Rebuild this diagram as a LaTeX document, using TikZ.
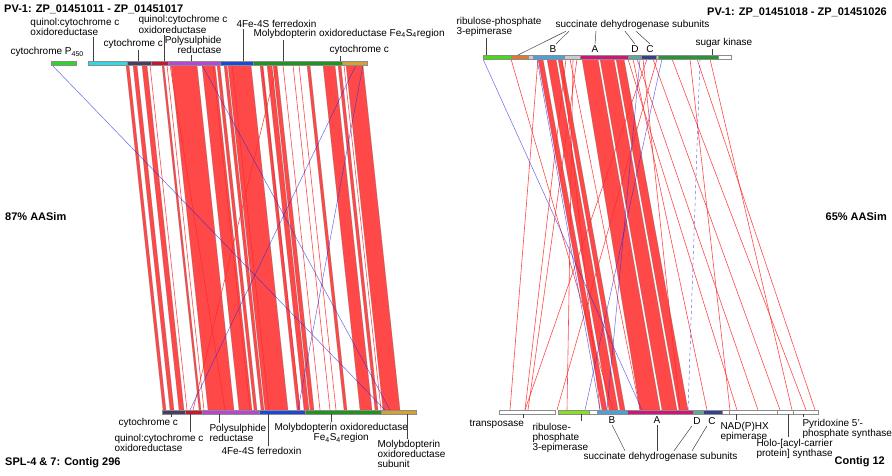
\documentclass[tikz,border=0pt]{standalone}
\usepackage{fontspec}
\setmainfont{Liberation Sans}

\definecolor{hitred}{RGB}{255,40,40}
\definecolor{invblue}{RGB}{40,40,230}
\definecolor{cpgreen}{RGB}{40,215,40}
\definecolor{qcyan}{RGB}{50,215,225}
\definecolor{cytpurple}{RGB}{75,60,100}
\definecolor{qcrimson}{RGB}{200,20,55}
\definecolor{psmagenta}{RGB}{185,70,210}
\definecolor{fdblue}{RGB}{30,70,215}
\definecolor{mogreen}{RGB}{30,150,30}
\definecolor{moorange}{RGB}{215,160,50}
\definecolor{rplime}{RGB}{70,220,20}
\definecolor{sdorange}{RGB}{225,120,50}
\definecolor{sdblue}{RGB}{75,160,215}
\definecolor{sdpink}{RGB}{210,20,120}
\definecolor{sdteal}{RGB}{90,170,160}
\definecolor{sdnavy}{RGB}{50,65,140}
\definecolor{skgreen}{RGB}{40,150,55}
\definecolor{rplimeb}{RGB}{135,225,30}

\begin{document}
\begin{tikzpicture}[x=1pt,y=-1pt,
    lbl/.style={font=\fontsize{10}{10}\selectfont, inner sep=0pt, outer sep=1.5pt, align=left},
    ttl/.style={font=\fontsize{11}{12}\selectfont\bfseries, inner sep=0pt},
    gene/.style={draw=black!45, line width=0.3pt},
    band/.style={fill=hitred, fill opacity=0.85, draw=black!60, draw opacity=0.5, line width=0.4pt},
    hit/.style={draw=hitred, line width=0.6pt, opacity=0.85},
    inv/.style={draw=invblue, line width=0.5pt, opacity=0.7},
    lead/.style={draw=black!75, line width=0.5pt}]

    \useasboundingbox (0,0) rectangle (892,475);

    % left comparison: Contig 296
    \foreach \a/\b in {126/129,133/137,142/147,162/164,171/197,202/215,217/220,224/227,228/251,260/263,267/272,273/277,307/310,323/335,338/341,346/363}
        \filldraw[band] (\a,65) -- (\b,65) -- (\b+37,410) -- (\a+37,410) -- cycle;
    \foreach \a/\b in {150/187,167/204,213/250,232/269,283/320,293/330,299/336,344/381,277/193,170/225,262/300}
        \draw[hit] (\a,65) -- (\b,410);
    \foreach \a/\b in {52/385,202/390,356/190,363/298}
        \draw[inv] (\a,65) -- (\b,410);

    % right comparison: Contig 12
    \foreach \a/\b/\c/\d in {538/543/602/607,547/556/609/618,558/562/620/625,582/598/640/660,600/614/662/677,616/624/679/688}
        \filldraw[band] (\a,59) -- (\b,59) -- (\d,410) -- (\c,410) -- cycle;
    \foreach \a/\b in {511/613,538/510,566/525,573/567,577/528,562/600,570/640,628/737,633/707,637/758,643/680,647/525,653/780,657/557,672/806,697/815,710/792,690/730}
        \draw[hit] (\a,59) -- (\b,410);
    \foreach \a/\b in {483/642,662/585,640/607,537/600}
        \draw[inv] (\a,59) -- (\b,410);
    \draw[inv, dashed] (700,59) -- (688,410);

    % gene bars
    \foreach \a/\b/\c in {50.7/76/cpgreen,88/127/qcyan,127/151/cytpurple,151/168/qcrimson,168/220/psmagenta,220/253/fdblue,253/342/mogreen,342/367/moorange}
        \filldraw[gene, fill=\c] (\a,61) rectangle (\b,65);
    \foreach \a/\b/\c in {162/185/cytpurple,185/202/qcrimson,202/259/psmagenta,259/305/fdblue,305/381/mogreen,381/416/moorange}
        \filldraw[gene, fill=\c] (\a,410) rectangle (\b,414);
    \foreach \a/\b/\c in {483/511/rplime,511/528/sdorange,528/533/black!20,533/564/sdblue,564/580/black!20,580/628/sdpink,628/640/sdteal,640/641/black!20,641/656/sdnavy,656/658/black!20,658/718/skgreen,718/731/white}
        \filldraw[gene, fill=\c] (\a,55) rectangle (\b,59);
    \foreach \a/\b/\c in {499/555/white,558/589/rplimeb,589/597/white,597/627/sdblue,627/693/sdpink,693/703/sdteal,703/722/sdnavy,722/729/white,729/777/white,777/793/white,793/818/white}
        \filldraw[gene, fill=\c] (\a,410) rectangle (\b,414);

    % titles
    \node[ttl, anchor=west] (tl) at (4,9) {PV-1: ZP\_01451011 - ZP\_01451017};
    \node[ttl, anchor=east] (tr) at (887,12) {PV-1: ZP\_01451018 - ZP\_01451026};
    \node[ttl, anchor=west] (sl) at (5,217) {87\% AASim};
    \node[ttl, anchor=east] (sr) at (887,217) {65\% AASim};
    \node[ttl, anchor=west] (bl) at (5,463) {SPL-4 \& 7: Contig 296};
    \node[ttl, anchor=east] (br) at (885,462) {Contig 12};

    % top left labels
    \node[lbl, anchor=west] (t1) at (29,26.5) {quinol:cytochrome c\\oxidoreductase};
    \node[lbl, anchor=west] (t2) at (102,44) {cytochrome c};
    \node[lbl, anchor=west, font=\fontsize{10}{8.5}\selectfont] (t3) at (137,24.5) {quinol:cytochrome c\\oxidoreductase};
    \node[lbl, anchor=east, align=right] (t4) at (223,45) {Polysulphide\\reductase};
    \node[lbl, anchor=west] (t5) at (235,23.5) {4Fe-4S ferredoxin};
    \node[lbl, anchor=west] (t6) at (252,33.5) {Molybdopterin oxidoreductase Fe\textsubscript{4}S\textsubscript{4}region};
    \node[lbl, anchor=west] (t7) at (328,50) {cytochrome c};
    \node[lbl, anchor=west] (t8) at (9,52) {cytochrome P\textsubscript{450}};
    \coordinate (g1) at (93,61);
    \coordinate (g2) at (138,61);
    \coordinate (g3) at (164,61);
    \coordinate (g4) at (191,61);
    \coordinate (g5) at (243,61);
    \coordinate (g6) at (283,61);
    \coordinate (g7) at (340,61);
    \draw[lead] (g1) -- (t1.south -| g1);
    \draw[lead] (g2) -- (t2.south -| g2);
    \draw[lead] (g3) -- (t3.south -| g3);
    \draw[lead] (g4) -- (t4.south -| g4);
    \draw[lead] (g5) -- (t5.south -| g5);
    \draw[lead] (g6) -- (t6.south -| g6);
    \draw[lead] (g7) -- (t7.south -| g7);

    % bottom left labels
    \node[lbl, anchor=west] (b1) at (117,423) {cytochrome c};
    \node[lbl, anchor=west] (b2) at (113,442.5) {quinol:cytochrome c\\oxidoreductase};
    \node[lbl, anchor=west] (b3) at (208,433) {Polysulphide\\reductase};
    \node[lbl, anchor=west] (b4) at (220,451) {4Fe-4S ferredoxin};
    \node[lbl, anchor=west, align=center] (b5) at (273,433) {Molybdopterin oxidoreductase\\Fe\textsubscript{4}S\textsubscript{4}region};
    \node[lbl, anchor=west] (b6) at (376,454) {Molybdopterin\\oxidoreductase\\subunit};
    \coordinate (h1) at (171,414);
    \coordinate (h2) at (190,414);
    \coordinate (h3) at (219,414);
    \coordinate (h4) at (268,414);
    \coordinate (h5) at (331,414);
    \coordinate (h6) at (407,414);
    \draw[lead] (h1) -- (b1.north -| h1);
    \draw[lead] (h2) -- (b2.north -| h2);
    \draw[lead] (h3) -- (b3.north -| h3);
    \draw[lead] (h4) -- (b4.north -| h4);
    \draw[lead] (h5) -- (b5.north -| h5);
    \draw[lead] (h6) -- (b6.north -| h6);

    % top right labels
    \node[lbl, anchor=west] (r1) at (455,27) {ribulose-phosphate\\3-epimerase};
    \node[lbl, anchor=west] (r2) at (554,25) {succinate dehydrogenase subunits};
    \node[lbl] (r3) at (553,49) {B};
    \node[lbl] (r4) at (595,49) {A};
    \node[lbl] (r5) at (635,49) {D};
    \node[lbl] (r6) at (650,49) {C};
    \node[lbl, anchor=west] (r7) at (694,43) {sugar kinase};
    \coordinate (k1) at (486,55);
    \coordinate (k2) at (518,55);
    \coordinate (k7) at (712,55);
    \draw[lead] (k1) -- (r1.south -| k1);
    \draw[lead] (k7) -- (r7.south -| k7);
    \draw[lead] ([xshift=12pt]r2.south west) -- (k2);
    \draw[lead] ([xshift=15pt]r2.south west) -- ([xshift=3pt]r3.north);
    \draw[lead] ([xshift=42pt]r2.south west) -- (r4.north);
    \draw[lead] ([xshift=71pt]r2.south west) -- (r5.north);
    \draw[lead] ([xshift=82pt]r2.south west) -- (r6.north);

    % bottom right labels
    \node[lbl, anchor=west] (c1) at (468,424) {transposase};
    \node[lbl, anchor=west] (c2) at (531,437.5) {ribulose-\\phosphate\\3-epimerase};
    \node[lbl] (c3) at (612,420) {B};
    \node[lbl] (c4) at (657,420) {A};
    \node[lbl] (c5) at (697,421) {D};
    \node[lbl] (c6) at (712,421) {C};
    \node[lbl, anchor=west] (c7) at (582,457) {succinate dehydrogenase subunits};
    \node[lbl, anchor=west] (c8) at (719,431.5) {NAD(P)HX\\epimerase};
    \node[lbl, anchor=west] (c9) at (755,448.5) {Holo-[acyl-carrier\\protein] synthase};
    \node[lbl, anchor=west] (c10) at (801,428.5) {Pyridoxine 5'-\\phosphate synthase};
    \coordinate (m1) at (523,414);
    \coordinate (m2) at (581,414);
    \coordinate (m8) at (736,414);
    \coordinate (m9) at (788,414);
    \coordinate (m10) at (803,414);
    \draw[lead] (m1) -- (c1.north -| m1);
    \draw[lead] (m2) -- (c2.north -| m2);
    \draw[lead] (m8) -- (c8.north -| m8);
    \draw[lead] (m9) -- (c9.north -| m9);
    \draw[lead] (m10) -- (c10.north -| m10);
    \draw[lead] (c3.south) -- ([xshift=43pt]c7.north west);
    \draw[lead] (c4.south) -- ([xshift=75pt]c7.north west);
    \draw[lead] (c5.south west) -- ([xshift=92pt]c7.north west);
    \draw[lead] (c6.south west) -- ([xshift=110pt]c7.north west);
\end{tikzpicture}
\end{document}
